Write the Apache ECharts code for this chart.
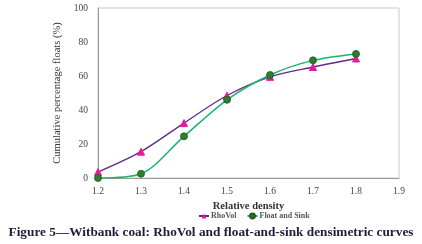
<!DOCTYPE html>
<html>
<head>
<meta charset="utf-8">
<script src="https://cdn.jsdelivr.net/npm/echarts@6/dist/echarts.min.js"></script>
<style>
  html, body { margin: 0; padding: 0; background: #fff; }
  #chart { width: 422px; height: 244px; }
</style>
</head>
<body>
<div id="chart"></div>
<script>
// relative density values (x)
const density = [1.2, 1.3, 1.4, 1.5, 1.6, 1.7, 1.8];
// cumulative percentage floats
const rhoVol = [3.5, 15.5, 32.3, 48.5, 59.5, 65.3, 70.3];
const floatSink = [0, 2.5, 24.5, 46, 60.6, 69.2, 73];

const pairs = (ys) => density.map((x, i) => [x, ys[i]]);

const serif = '"Liberation Serif", "DejaVu Serif", serif';

const chart = echarts.init(document.getElementById('chart'));

chart.setOption({
    animation: false,
    title: {
        text: 'Figure 5\u2014Witbank coal: RhoVol and float-and-sink densimetric curves',
        left: 'center',
        top: 221,
        textStyle: {
            fontFamily: serif,
            fontSize: 13.3,
            fontWeight: 'bold',
            color: '#1e1e3c'
        }
    },
    legend: {
        top: 207,
        left: 193,
        itemWidth: 10,
        itemHeight: 6,
        itemGap: 10,
        textStyle: {
            fontFamily: serif,
            fontSize: 8,
            fontWeight: 'bold',
            color: '#555',
            padding: [0, 0, 0, -3]
        },
        data: ['RhoVol', 'Float and Sink']
    },
    grid: {
        left: 98,
        right: 23,
        top: 8,
        bottom: 66
    },
    xAxis: {
        type: 'value',
        min: 1.2,
        max: 1.9,
        interval: 0.1,
        name: 'Relative density',
        nameLocation: 'middle',
        nameGap: 19,
        nameTextStyle: {
            fontFamily: serif,
            fontSize: 10.5,
            fontWeight: 'bold',
            color: '#333'
        },
        axisLine: { lineStyle: { color: '#999' } },
        axisTick: { show: false },
        splitLine: { show: false },
        axisLabel: {
            fontFamily: serif,
            fontSize: 9.5,
            color: '#444',
            margin: 8,
            formatter: v => v.toFixed(1)
        }
    },
    yAxis: {
        type: 'value',
        min: 0,
        max: 100,
        interval: 20,
        name: 'Cumulative percentage floats (%)',
        nameLocation: 'middle',
        nameGap: 34,
        nameTextStyle: {
            fontFamily: serif,
            fontSize: 10.5,
            color: '#333'
        },
        axisLine: { show: true, lineStyle: { color: '#999' } },
        axisTick: { show: false },
        splitLine: { show: false },
        axisLabel: {
            fontFamily: serif,
            fontSize: 9.5,
            color: '#444',
            margin: 10
        }
    },
    graphic: [{
        type: 'rect',
        shape: { x: 98, y: 8, width: 301, height: 170 },
        style: { fill: 'none', stroke: '#c8c8c8', lineWidth: 1 },
        silent: true,
        z: -1
    }],
    series: [{
        name: 'RhoVol',
        type: 'line',
        smooth: 0.3,
        data: pairs(rhoVol),
        symbol: 'triangle',
        symbolSize: 7,
        lineStyle: { color: '#5f2a8c', width: 1.3 },
        itemStyle: { color: '#e6199b', borderColor: '#e6199b' }
    }, {
        name: 'Float and Sink',
        type: 'line',
        smooth: 0.3,
        data: pairs(floatSink),
        symbol: 'circle',
        symbolSize: 7,
        lineStyle: { color: '#19b46e', width: 1.5 },
        itemStyle: { color: '#2e7d2e', borderColor: '#1f5c1f', borderWidth: 0.8 }
    }]
});
</script>
</body>
</html>
